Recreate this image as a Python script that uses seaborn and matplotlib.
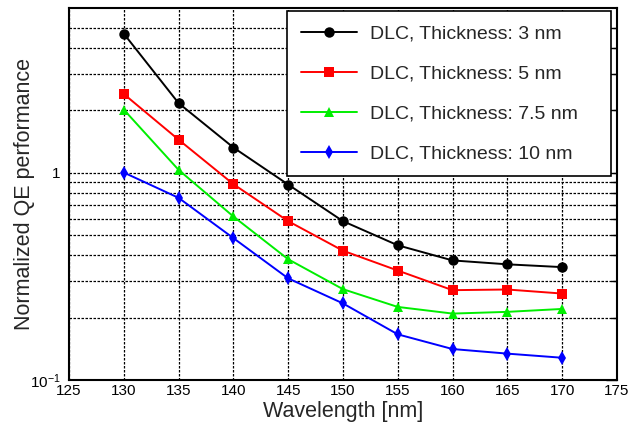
import numpy as np
import pandas as pd
import matplotlib
matplotlib.use("Agg")
import matplotlib.pyplot as plt
import seaborn as sns
from matplotlib.ticker import FixedLocator, NullFormatter, FixedFormatter

wavelength = [130, 135, 140, 145, 150, 155, 160, 165, 170]
qe_3nm = [4.67, 2.16, 1.32, 0.875, 0.583, 0.446, 0.377, 0.361, 0.350]
qe_5nm = [2.39, 1.44, 0.879, 0.583, 0.420, 0.337, 0.271, 0.273, 0.261]
qe_7_5nm = [2.01, 1.03, 0.614, 0.382, 0.274, 0.225, 0.209, 0.213, 0.220]
qe_10nm = [1.00, 0.755, 0.483, 0.309, 0.234, 0.166, 0.141, 0.134, 0.128]
series_names = ["DLC, Thickness: 3 nm", "DLC, Thickness: 5 nm",
                "DLC, Thickness: 7.5 nm", "DLC, Thickness: 10 nm"]
series_values = [qe_3nm, qe_5nm, qe_7_5nm, qe_10nm]
x_ticks = [125, 130, 135, 140, 145, 150, 155, 160, 165, 170, 175]
y_major = [0.1, 1]
y_major_labels = ["$10^{-1}$", "1"]
y_minor = [0.2, 0.3, 0.4, 0.5, 0.6, 0.7, 0.8, 0.9, 2, 3, 4, 5]

df = pd.DataFrame({
    "Wavelength": wavelength * len(series_names),
    "QE": sum(series_values, []),
    "Series": sum([[n] * len(wavelength) for n in series_names], []),
})

sns.set_style("white")
plt.rcParams["font.family"] = ["Liberation Sans", "DejaVu Sans"]
plt.rcParams["mathtext.fontset"] = "custom"
plt.rcParams["mathtext.rm"] = "Liberation Sans"
plt.rcParams["mathtext.it"] = "Liberation Sans"

palette = {series_names[0]: "#000000", series_names[1]: "#ff0000",
           series_names[2]: "#00ee00", series_names[3]: "#0000ff"}
markers = {series_names[0]: "o", series_names[1]: "s",
           series_names[2]: "^", series_names[3]: "d"}

fig = plt.figure(figsize=(6.29, 4.25), dpi=100)
ax = fig.add_axes([0.1097, 0.1059, 0.871, 0.875])

sns.lineplot(data=df, x="Wavelength", y="QE", hue="Series", style="Series",
             palette=palette, markers=markers, dashes=False, ax=ax,
             linewidth=1.4, markersize=7.5, markeredgewidth=0)

ax.set_yscale("log")
ax.set_xlim(125, 175)
ax.set_ylim(0.1, 6.2)

ax.xaxis.set_major_locator(FixedLocator(x_ticks))
ax.xaxis.set_minor_locator(FixedLocator(np.arange(125, 176, 1)))
ax.yaxis.set_major_locator(FixedLocator(y_major))
ax.yaxis.set_major_formatter(FixedFormatter(y_major_labels))
ax.yaxis.set_minor_locator(FixedLocator(y_minor))
ax.yaxis.set_minor_formatter(NullFormatter())

ax.tick_params(axis="both", which="both", direction="in", colors="black", labelsize=11)
ax.tick_params(axis="x", which="major", length=8, width=1, top=False, pad=3)
ax.tick_params(axis="x", which="minor", length=4, width=1, top=False)
ax.tick_params(axis="y", which="major", length=8, width=1, right=True, pad=6)
ax.tick_params(axis="y", which="minor", length=4, width=1, right=True)

grid_style = dict(color="black", linestyle=(0, (2, 1.2)), linewidth=0.9)
ax.xaxis.grid(True, which="major", **grid_style)
ax.yaxis.grid(True, which="major", **grid_style)
ax.yaxis.grid(True, which="minor", **grid_style)
ax.set_axisbelow(True)

for s in ax.spines.values():
    s.set_color("black")
    s.set_linewidth(1.5)
    s.set_visible(True)

ax.set_xlabel("Wavelength [nm]", fontsize=15.5)
ax.set_ylabel("Normalized QE performance", fontsize=15.5)
ax.xaxis.set_label_coords(0.5, -0.056)
ax.yaxis.set_label_coords(-0.062, 0.5)

handles, labels = ax.get_legend_handles_labels()
leg = ax.legend(handles, labels, loc="upper right",
                bbox_to_anchor=(0.398, 0.560, 0.591, 0.432), mode="expand",
                fontsize=14, frameon=True, fancybox=False, edgecolor="black",
                framealpha=1, handlelength=2.9, handletextpad=0.65,
                labelspacing=1.16, borderpad=0.7, borderaxespad=0)
leg.get_frame().set_linewidth(1.2)

fig.savefig("out.png", dpi=100)
